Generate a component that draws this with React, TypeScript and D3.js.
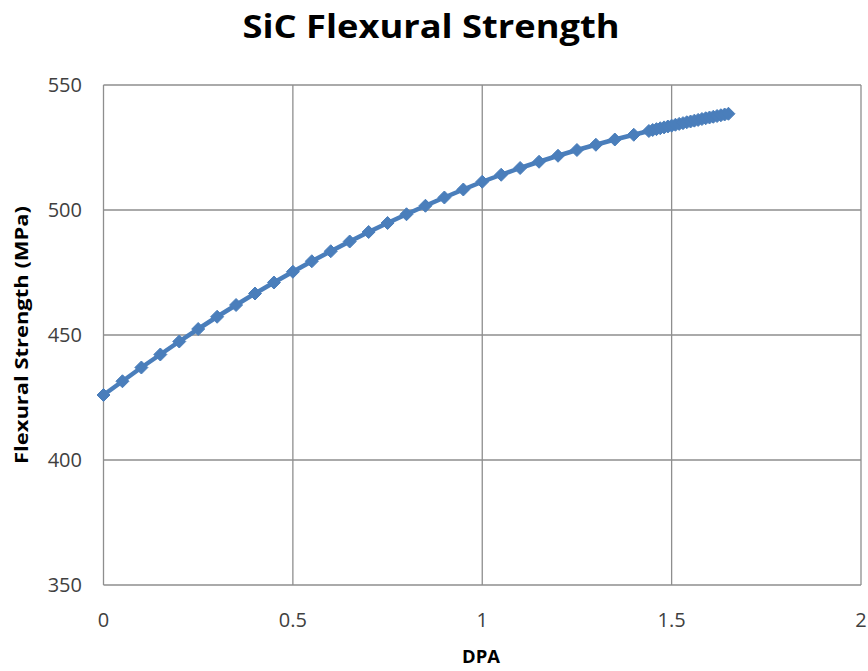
import React from "react";
import * as d3 from "d3";

const dpa: number[] = [
  0, 0.05, 0.1, 0.15, 0.2, 0.25, 0.3, 0.35, 0.4, 0.45, 0.5, 0.55, 0.6, 0.65, 0.7, 0.75, 0.8, 0.85, 0.9, 0.95,
  1.0, 1.05, 1.1, 1.15, 1.2, 1.25, 1.3, 1.35, 1.4, 1.44, 1.45, 1.46, 1.47, 1.48, 1.49, 1.5, 1.51, 1.52, 1.53,
  1.54, 1.55, 1.56, 1.57, 1.58, 1.59, 1.6, 1.61, 1.62, 1.63, 1.64, 1.65,
];
const strength: number[] = [
  426.0, 431.5, 437.0, 442.2, 447.4, 452.4, 457.3, 462.0, 466.6, 471.0, 475.3, 479.5, 483.5, 487.4, 491.2,
  494.8, 498.3, 501.7, 505.0, 508.2, 511.3, 514.1, 516.8, 519.3, 521.7, 524.0, 526.1, 528.2, 530.1, 531.6,
  532.0, 532.35, 532.7, 533.05, 533.4, 533.75, 534.1, 534.45, 534.75, 535.1, 535.4, 535.75, 536.05, 536.4,
  536.7, 537.0, 537.3, 537.6, 537.9, 538.2, 538.5,
];
const xTicks: number[] = [0, 0.5, 1, 1.5, 2];
const yTicks: number[] = [350, 400, 450, 500, 550];
const xTickLabels: string[] = ["0", "0.5", "1", "1.5", "2"];
const yTickLabels: string[] = ["350", "400", "450", "500", "550"];

const W = 868;
const H = 671;
const M = { left: 103.5, right: 861, top: 85, bottom: 585 };
const COLOR = "#4A7EBB";
const GRID = "#8E8E8E";
const FONT = "'Open Sans', 'DejaVu Sans', sans-serif";

export default function App() {
  const x = d3.scaleLinear().domain([0, 2]).range([M.left, M.right]);
  const y = d3.scaleLinear().domain([350, 550]).range([M.bottom, M.top]);
  const pts = dpa.map((d, i) => [d, strength[i]] as [number, number]);
  const line = d3
    .line<[number, number]>()
    .x((d) => x(d[0]))
    .y((d) => y(d[1]))
    .curve(d3.curveLinear);
  const r = 6.5;
  const diamond = (cx: number, cy: number) =>
    `M${cx},${cy - r}L${cx + r},${cy}L${cx},${cy + r}L${cx - r},${cy}Z`;

  return (
    <svg
      width={W}
      height={H}
      style={{ position: "absolute", left: 0, top: 0, background: "#fff" }}
    >
      <rect x={0} y={0} width={W} height={H} fill="#fff" />
      <text
        x={431}
        y={38}
        textAnchor="middle"
        fontFamily={FONT}
        fontWeight="bold"
        fontSize={32}
        textLength={377}
        lengthAdjust="spacingAndGlyphs"
        fill="#000"
      >
        SiC Flexural Strength
      </text>
      {yTicks.map((t) => (
        <line key={"gy" + t} x1={M.left} x2={M.right} y1={y(t)} y2={y(t)} stroke={GRID} strokeWidth={1.3} />
      ))}
      {xTicks.map((t) => (
        <line key={"gx" + t} x1={x(t)} x2={x(t)} y1={M.top} y2={M.bottom} stroke={GRID} strokeWidth={1.3} />
      ))}
      {yTicks.map((t, i) => (
        <text
          key={"ly" + t}
          x={82}
          y={y(t)}
          dy="0.36em"
          textAnchor="end"
          fontFamily={FONT}
          fontSize={20}
          fill="#404040"
        >
          {yTickLabels[i]}
        </text>
      ))}
      {xTicks.map((t, i) => (
        <text
          key={"lx" + t}
          x={x(t)}
          y={627}
          textAnchor="middle"
          fontFamily={FONT}
          fontSize={20}
          fill="#404040"
        >
          {xTickLabels[i]}
        </text>
      ))}
      <path d={line(pts) || ""} fill="none" stroke={COLOR} strokeWidth={4.5} strokeLinejoin="round" />
      {pts.map((p, i) => (
        <path key={"m" + i} d={diamond(x(p[0]), y(p[1]))} fill={COLOR} stroke={COLOR} strokeWidth={1} />
      ))}
      <text
        x={481}
        y={663}
        textAnchor="middle"
        fontFamily={FONT}
        fontWeight="bold"
        fontSize={18}
        textLength={38}
        lengthAdjust="spacingAndGlyphs"
        fill="#000"
      >
        DPA
      </text>
      <text
        transform={`translate(28,${(M.top + M.bottom) / 2}) rotate(-90)`}
        textAnchor="middle"
        fontFamily={FONT}
        fontWeight="bold"
        fontSize={17}
        textLength={258}
        lengthAdjust="spacingAndGlyphs"
        fill="#000"
      >
        Flexural Strength (MPa)
      </text>
    </svg>
  );
}
